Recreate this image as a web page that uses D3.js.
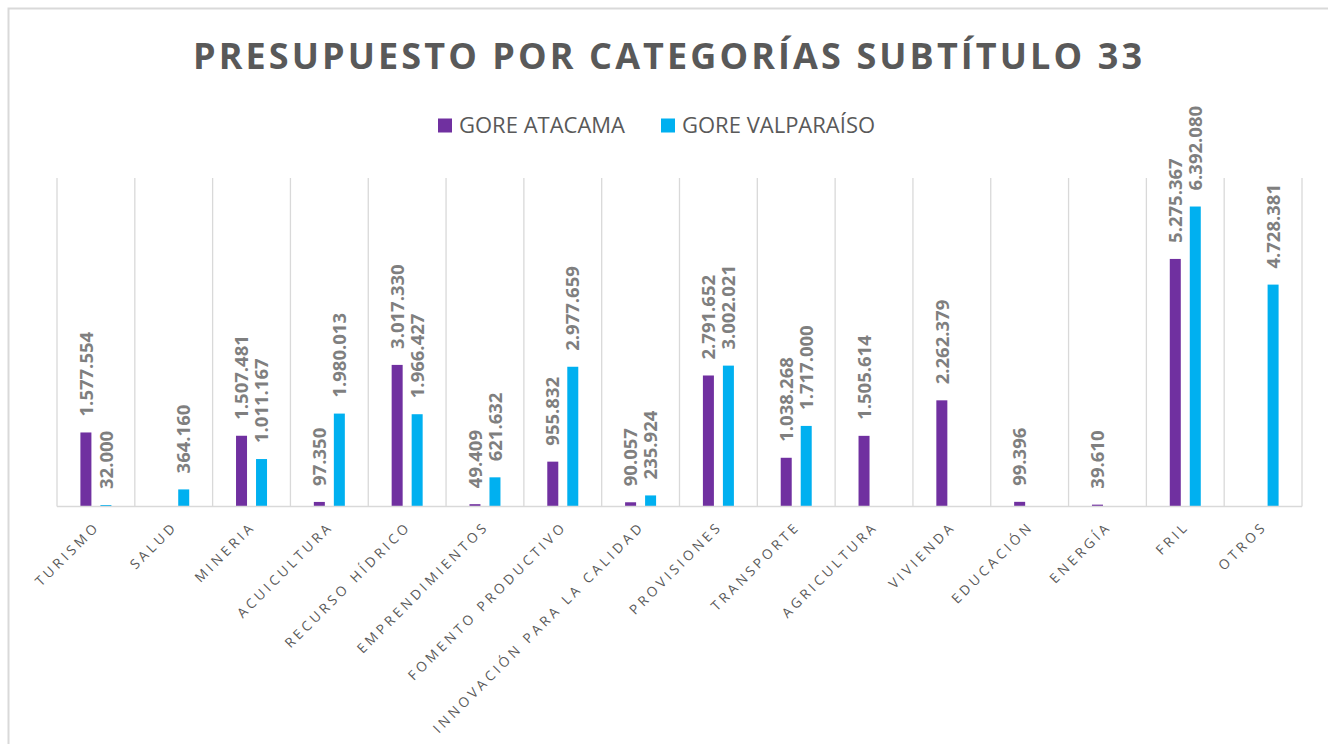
<!DOCTYPE html>
<html>
<head>
<meta charset="utf-8">
<script src="https://cdn.jsdelivr.net/npm/d3@7"></script>
<style>
  html, body { margin: 0; padding: 0; background: #fff; }
  svg { display: block; }
</style>
</head>
<body>
<svg id="chart" width="1328" height="744"></svg>
<script>
const title = "PRESUPUESTO POR CATEGORÍAS SUBTÍTULO 33";
const categories = ["TURISMO", "SALUD", "MINERIA", "ACUICULTURA", "RECURSO HÍDRICO", "EMPRENDIMIENTOS",
  "FOMENTO PRODUCTIVO", "INNOVACIÓN PARA LA CALIDAD", "PROVISIONES", "TRANSPORTE", "AGRICULTURA",
  "VIVIENDA", "EDUCACIÓN", "ENERGÍA", "FRIL", "OTROS"];
const seriesNames = ["GORE ATACAMA", "GORE VALPARAÍSO"];
const seriesColors = ["#7030A0", "#00B0F0"];
const atacama = [1577554, null, 1507481, 97350, 3017330, 49409, 955832, 90057, 2791652, 1038268,
  1505614, 2262379, 99396, 39610, 5275367, null];
const valparaiso = [32000, 364160, 1011167, 1980013, 1966427, 621632, 2977659, 235924, 3002021, 1717000,
  null, null, null, null, 6392080, 4728381];
const yMax = 7000000;

const svg = d3.select("#chart");
const W = 1328, H = 744;
const plot = { left: 57, right: 1302, top: 178, bottom: 506.5 };

// outer chart border
svg.append("rect").attr("x", 8.5).attr("y", 8.5).attr("width", W + 20).attr("height", H + 20)
  .attr("fill", "#fff").attr("stroke", "#d9d9d9").attr("stroke-width", 2);

// title
svg.append("text").attr("x", 667.5).attr("y", 69).attr("text-anchor", "middle")
  .attr("font-family", "'Open Sans', sans-serif").attr("font-weight", 700).attr("font-size", 36)
  .attr("fill", "#595959").attr("textLength", 949).attr("lengthAdjust", "spacing")
  .text(title);

// legend
const legendX = [438, 661];
seriesNames.forEach((n, i) => {
  svg.append("rect").attr("x", legendX[i]).attr("y", 118.5).attr("width", 14).attr("height", 14)
    .attr("fill", seriesColors[i]);
  svg.append("text").attr("x", legendX[i] + 21).attr("y", 133)
    .attr("font-family", "'Open Sans', sans-serif").attr("font-size", 22).attr("fill", "#595959")
    .text(n);
});

const x = d3.scaleBand().domain(categories).range([plot.left, plot.right]).padding(0);
const bw = x.bandwidth();
const x1 = d3.scaleBand().domain(seriesNames).range([bw / 2 - 15.5, bw / 2 + 15.5]).paddingInner(0.45).paddingOuter(0);
const y = d3.scaleLinear().domain([0, yMax]).range([plot.bottom, plot.top]);

// vertical gridlines at category boundaries
const bounds = categories.map(c => x(c)).concat([plot.right]);
svg.append("g").selectAll("line").data(bounds).join("line")
  .attr("x1", d => d).attr("x2", d => d).attr("y1", plot.top).attr("y2", plot.bottom)
  .attr("stroke", "#d9d9d9").attr("stroke-width", 1.3);

// bars
const seriesData = [atacama, valparaiso];
const barsG = svg.append("g");
const labelsG = svg.append("g");
seriesData.forEach((vals, si) => {
  const sname = seriesNames[si];
  const data = categories.map((c, i) => ({ c, v: vals[i] })).filter(d => d.v != null);
  barsG.selectAll(null).data(data).join("rect")
    .attr("x", d => x(d.c) + x1(sname))
    .attr("width", x1.bandwidth())
    .attr("y", d => y(d.v))
    .attr("height", d => plot.bottom - y(d.v))
    .attr("fill", seriesColors[si]);
  labelsG.selectAll(null).data(data).join("text")
    .attr("transform", d => `translate(${x(d.c) + x1(sname) + x1.bandwidth() / 2},${y(d.v) - 16}) rotate(-90)`)
    .attr("dy", "0.36em")
    .attr("text-anchor", "start")
    .attr("font-family", "'Open Sans', sans-serif").attr("font-weight", 700).attr("font-size", 18.5)
    .attr("fill", "#7f7f7f")
    .text(d => d3.format(",")(d.v).replace(/,/g, "."));
});

// baseline axis
svg.append("line").attr("x1", plot.left).attr("x2", plot.right).attr("y1", plot.bottom).attr("y2", plot.bottom)
  .attr("stroke", "#d9d9d9").attr("stroke-width", 1.5);

// category labels
const axis = d3.axisBottom(x).tickSize(0).tickPadding(0);
const axG = svg.append("g").attr("transform", `translate(0,${plot.bottom})`).call(axis);
axG.select(".domain").remove();
axG.selectAll(".tick text")
  .attr("font-family", "'Open Sans', sans-serif").attr("font-size", 13.6).attr("fill", "#595959")
  .attr("letter-spacing", "3.5px")
  .attr("text-anchor", "end")
  .attr("x", 0).attr("y", 0).attr("dy", "0.71em")
  .attr("transform", "translate(-2,14) rotate(-45)");
</script>
</body>
</html>
